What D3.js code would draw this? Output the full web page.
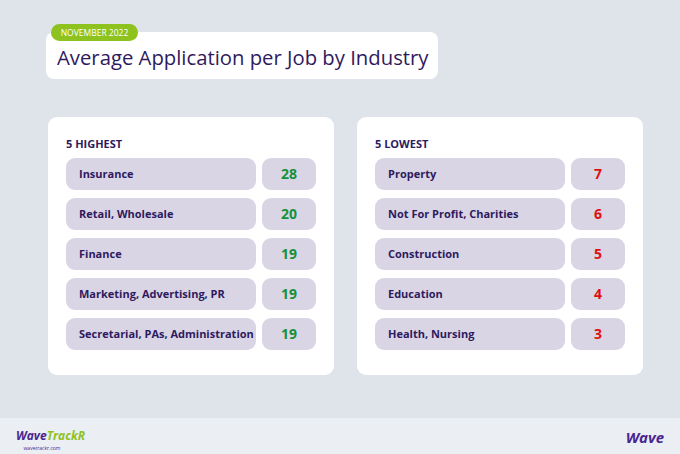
<!DOCTYPE html><html><head><meta charset="utf-8"><script src="https://cdn.jsdelivr.net/npm/d3@7"></script>
<style>body{margin:0}svg{display:block;font-family:"Open Sans",sans-serif}</style></head><body><svg width="680" height="454"></svg>
<script>
const highCats=["Insurance","Retail, Wholesale","Finance","Marketing, Advertising, PR","Secretarial, PAs, Administration"];
const highVals=[28,20,19,19,19];
const lowCats=["Property","Not For Profit, Charities","Construction","Education","Health, Nursing"];
const lowVals=[7,6,5,4,3];
const svg=d3.select("svg");
const purple="#2e1a5e";
svg.append("rect").attr("width",680).attr("height",454).attr("fill","#dfe4ea");
svg.append("rect").attr("y",418).attr("width",680).attr("height",36).attr("fill","#ebeff3");
svg.append("rect").attr("x",46).attr("y",32).attr("width",392).attr("height",47).attr("rx",8).attr("fill","#fff");
svg.append("rect").attr("x",51).attr("y",24).attr("width",87).attr("height",17).attr("rx",8.5).attr("fill","#8dc21f");
svg.append("text").attr("x",94.5).attr("y",36).attr("text-anchor","middle").attr("font-size",8.5).attr("fill","#fff").text("NOVEMBER 2022");
svg.append("text").attr("x",57).attr("y",65).attr("font-size",20.3).attr("fill",purple).text("Average Application per Job by Industry");
const y=d3.scaleBand().domain(d3.range(5)).range([158,350]).paddingInner(0.2);
function panel(x0,title,cats,vals,col,lw){
  const g=svg.append("g");
  g.append("rect").attr("x",x0).attr("y",117).attr("width",286).attr("height",258).attr("rx",9).attr("fill","#fff");
  g.append("text").attr("x",x0+18).attr("y",148).attr("font-size",11).attr("font-weight","bold").attr("fill",purple).text(title);
  const r=g.selectAll("g.r").data(cats).join("g").attr("transform",(d,i)=>`translate(0,${y(i)})`);
  r.append("rect").attr("x",x0+18).attr("width",lw).attr("height",y.bandwidth()).attr("rx",9).attr("fill","#d9d5e5");
  r.append("rect").attr("x",x0+214).attr("width",54).attr("height",y.bandwidth()).attr("rx",9).attr("fill","#d9d5e5");
  r.append("text").attr("x",x0+31).attr("y",y.bandwidth()/2+4).attr("font-size",11).attr("font-weight","bold").attr("fill",purple).text(d=>d);
  r.append("text").attr("x",x0+241).attr("y",y.bandwidth()/2+5).attr("text-anchor","middle").attr("font-size",14).attr("font-weight","bold").attr("fill",col).text((d,i)=>vals[i]);
}
panel(48,"5 HIGHEST",highCats,highVals,"#15913a",190);
panel(357,"5 LOWEST",lowCats,lowVals,"#e01010",190);
svg.append("text").attr("x",16).attr("y",440).attr("font-size",12).attr("font-weight","bold").attr("font-style","italic").attr("fill","#4a2590").text("Wave").append("tspan").attr("fill","#8dc21f").text("TrackR");
svg.append("text").attr("x",42).attr("y",450).attr("text-anchor","middle").attr("font-size",5).attr("fill","#4a2590").text("wavetrackr.com");
svg.append("text").attr("x",664).attr("y",443).attr("text-anchor","end").attr("font-size",15).attr("font-weight","bold").attr("font-style","italic").attr("fill","#4a2590").text("Wave");
</script></body></html>
